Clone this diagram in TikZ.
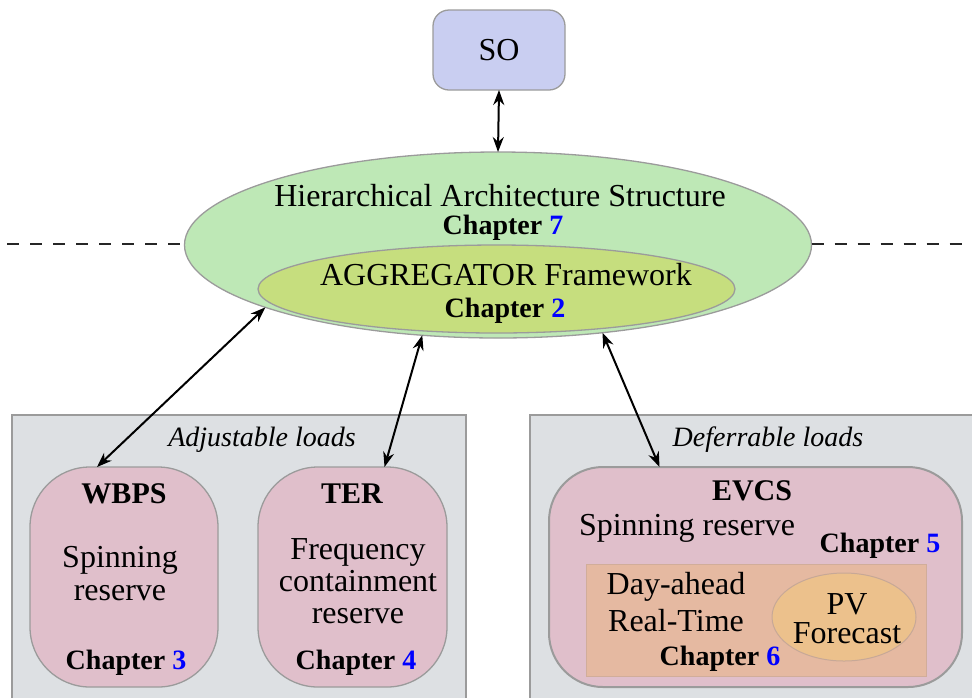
\documentclass[tikz,border=0pt]{standalone}
\usepackage{fontspec}
\setmainfont{Liberation Serif}
\usetikzlibrary{shapes.geometric,arrows.meta}
\definecolor{soC}{RGB}{201,206,241}
\definecolor{outerC}{RGB}{190,232,182}
\definecolor{innerC}{RGB}{198,222,126}
\definecolor{grayC}{RGB}{221,224,227}
\definecolor{pinkC}{RGB}{224,191,203}
\definecolor{orangeC}{RGB}{229,185,161}
\definecolor{pvC}{RGB}{236,193,140}
\definecolor{bordC}{RGB}{155,155,155}
\definecolor{chapC}{RGB}{0,0,255}
\newcommand{\chap}[1]{{\fontsize{14}{16}\selectfont\textbf{Chapter \textcolor{chapC}{#1}}}}
\begin{document}
\begin{tikzpicture}[x=0.5pt,y=-0.5pt,
  every node/.style={font=\fontsize{16}{18}\selectfont, inner sep=0pt, outer sep=0pt},
  shapebox/.style={draw=bordC, line width=0.65pt},
  lbl/.style={align=center},
  ttl/.style={font=\fontsize{15}{17}\selectfont\bfseries},
  link/.style={{Stealth[length=7.5pt,width=5.5pt]}-{Stealth[length=7.5pt,width=5.5pt]}, line width=1pt},
  sep/.style={dash pattern=on 6pt off 5.5pt, line width=0.6pt, black!85}]
\useasboundingbox (0,0) rectangle (972,697);
% background boxes
\node[shapebox, fill=grayC, minimum width=227pt, minimum height=150pt] (leftbox) at (239,565) {};
\node[shapebox, fill=grayC, minimum width=232pt, minimum height=150pt] (rightbox) at (762,565) {};
% SO
\node[shapebox, fill=soC, rounded corners=8pt, minimum width=66pt, minimum height=40pt] (so) at (499,50) {};
\node (sotext) at (499,50) {SO};
% ellipses
\node[shapebox, ellipse, fill=outerC, minimum width=313.5pt, minimum height=93pt] (outer) at (498,245) {};
\node[shapebox, ellipse, fill=innerC, minimum width=238.5pt, minimum height=44pt] (inner) at (496.5,289) {};
\node (hier) at (500,196) {Hierarchical Architecture Structure};
\node (ch7) at (503,228) {\chap{7}};
\node (agg) at (506,275) {AGGREGATOR Framework};
\node (ch2) at (505,311) {\chap{2}};
% dashed separators
\coordinate (dl) at (7,244);
\coordinate (dr) at (972,244);
\draw[sep] (dl) -- (outer.west |- dl);
\draw[sep] (outer.east |- dr) -- (dr);
% group labels
\node[font=\fontsize{14}{16}\selectfont] (adj) at (262,440) {\textit{Adjustable loads}};
\node[font=\fontsize{14}{16}\selectfont] (def) at (768,440) {\textit{Deferrable loads}};
% WBPS
\node[shapebox, fill=pinkC, rounded corners=30pt, minimum width=94pt, minimum height=110pt] (wbps) at (124,577) {};
\node[ttl] (wbpst) at (124,494) {WBPS};
\node[lbl, text width=80pt, font=\fontsize{16}{16.5}\selectfont] (wbpsd) at (120,574) {Spinning\\reserve};
\node (ch3) at (126,663) {\chap{3}};
% TER
\node[shapebox, fill=pinkC, rounded corners=30pt, minimum width=94.5pt, minimum height=110pt] (ter) at (352.5,577) {};
\node[ttl] (tert) at (352,494) {TER};
\node[lbl, text width=90pt, font=\fontsize{16}{16}\selectfont] (terd) at (358,581) {Frequency\\containment\\reserve};
\node (ch4) at (356,663) {\chap{4}};
% EVCS
\node[shapebox, line width=1pt, fill=pinkC, rounded corners=27pt, minimum width=206.5pt, minimum height=110pt] (evcs) at (755.5,577) {};
\node[ttl] (evcst) at (752,491) {EVCS};
\node (evcsd) at (687,528) {Spinning reserve};
\node (ch5) at (880,546) {\chap{5}};
\node[draw=orangeC!80!gray, line width=0.5pt, fill=orangeC, minimum width=170pt, minimum height=56pt] (sched) at (756,620) {};
\node[lbl, text width=80pt, font=\fontsize{16}{18.5}\selectfont] (schedt) at (676,602) {Day-ahead\\Real-Time};
\node (ch6) at (720,659) {\chap{6}};
\node[draw=orangeC!70!gray, line width=0.5pt, ellipse, fill=pvC, minimum width=72pt, minimum height=44pt] (pv) at (844,617) {};
\node[lbl, text width=60pt, font=\fontsize{16}{14.5}\selectfont] (pvt) at (847,619) {PV\\Forecast};
% connectors
\draw[link] (so.south) -- (outer.north);
\draw[link] (outer.195) -- ([xshift=-13.5pt]wbps.north);
\draw[link] (outer.230) -- ([xshift=16pt]ter.north);
\draw[link] (outer.320) -- ([xshift=-48pt]evcs.north);
\end{tikzpicture}
\end{document}
